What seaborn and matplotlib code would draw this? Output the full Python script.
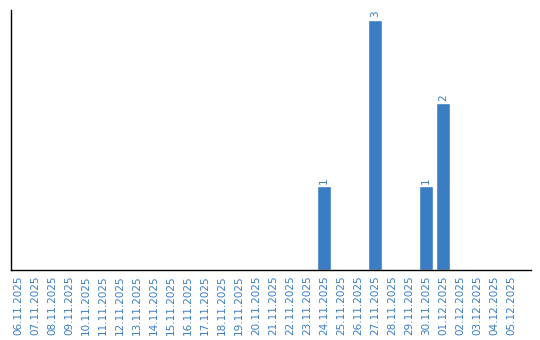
import matplotlib
matplotlib.use("Agg")
import matplotlib.pyplot as plt
import seaborn as sns
import pandas as pd

dates = ["06.11.2025", "07.11.2025", "08.11.2025", "09.11.2025", "10.11.2025",
         "11.11.2025", "12.11.2025", "13.11.2025", "14.11.2025", "15.11.2025",
         "16.11.2025", "17.11.2025", "18.11.2025", "19.11.2025", "20.11.2025",
         "21.11.2025", "22.11.2025", "23.11.2025", "24.11.2025", "25.11.2025",
         "26.11.2025", "27.11.2025", "28.11.2025", "29.11.2025", "30.11.2025",
         "01.12.2025", "02.12.2025", "03.12.2025", "04.12.2025", "05.12.2025"]
counts = [0, 0, 0, 0, 0, 0, 0, 0, 0, 0,
          0, 0, 0, 0, 0, 0, 0, 0, 1, 0,
          0, 3, 0, 0, 1, 2, 0, 0, 0, 0]

df = pd.DataFrame({"date": dates, "count": counts})
blue = "#3a7dc2"

sns.set_style("white")
fig = plt.figure(figsize=(5.4, 3.4), dpi=100)
ax = fig.add_axes([10.5/540, 1 - 269.5/340, 520/540, 259.5/340])
sns.barplot(data=df, x="date", y="count", color=blue, saturation=1, width=0.82, ax=ax)

for p, v in zip(ax.patches, counts):
    if v > 0:
        ax.text(p.get_x() + p.get_width() / 2, p.get_height() + 0.03, str(v),
                rotation=90, ha="center", va="bottom", color=blue, fontsize=7.5)

ax.set_xlim(-0.44, 30.15)
ax.set_ylim(0, 3.12)
ax.set_yticks([])
ax.set_xlabel("")
ax.set_ylabel("")
ax.tick_params(axis="x", length=0, pad=4.5, labelsize=7.5, labelcolor=blue, labelrotation=90)
for s in ["top", "right"]:
    ax.spines[s].set_visible(False)
for s in ["left", "bottom"]:
    ax.spines[s].set_color("black")
    ax.spines[s].set_linewidth(1.0)

fig.savefig("out.png", dpi=100)
